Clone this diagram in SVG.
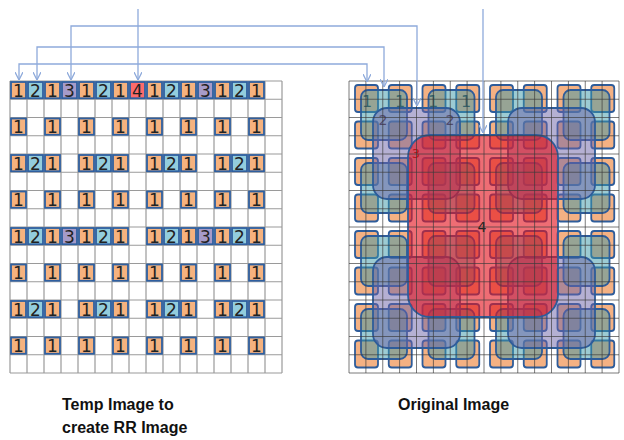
<svg xmlns="http://www.w3.org/2000/svg" xmlns:xlink="http://www.w3.org/1999/xlink" width="624" height="440" viewBox="0 0 624 440">
<style>
.grid{fill:none;stroke:#9a9a9a;stroke-width:1.2}
.rgrid{fill:none;stroke:#3a3a3a;stroke-width:0.9;opacity:0.75}
.cell{stroke:#2f5f9f;stroke-width:1.8}
.o{fill:#f6b27e}.b{fill:#93cddd}.p{fill:#a69bc9}.r{fill:#fd6b6b}
.d{font-family:"DejaVu Sans",sans-serif;font-size:17px;fill:#222;text-anchor:middle}
.sq{stroke:#2e5c9a;stroke-width:1.8}
.l1{fill:#f4b183}
.l2{fill:#3a97a8;fill-opacity:0.5}
.l3{fill:#6c62a8;fill-opacity:0.5}
.l4{fill:#e3141e;fill-opacity:0.62}
.lab{font-family:"DejaVu Sans",sans-serif;text-anchor:middle;fill:#333}
.con{fill:none;stroke:#8eaadb;stroke-width:1.3}
.cap{font-family:"Liberation Sans",Arial,sans-serif;font-weight:bold;font-size:16px;fill:#111}
</style>
<defs>
<marker id="ah" viewBox="0 0 10 10" refX="10" refY="5" markerWidth="8" markerHeight="8" markerUnits="userSpaceOnUse" orient="auto-start-reverse">
<path d="M0,0 L10,5 L0,10" fill="none" stroke="#8eaadb" stroke-width="1.6"/>
</marker>
<g id="k1"><rect class="cell o" x="1" y="1" width="15" height="16.25"/><text class="d" x="8.5" y="15.5">1</text></g>
<g id="k2"><rect class="cell b" x="1" y="1" width="15" height="16.25"/><text class="d" x="8.5" y="15.5">2</text></g>
<g id="k3"><rect class="cell p" x="1" y="1" width="15" height="16.25"/><text class="d" x="8.5" y="15.5">3</text></g>
<g id="k4"><rect class="cell r" x="1" y="1" width="15" height="16.25"/><text class="d" x="8.5" y="15.5">4</text></g>
</defs>
<rect width="624" height="440" fill="#ffffff"/>

<g id="temp-image">
<path class="grid" d="M10,81V373M27,81V373M44,81V373M61,81V373M78,81V373M95,81V373M112,81V373M129,81V373M146,81V373M163,81V373M180,81V373M197,81V373M214,81V373M231,81V373M248,81V373M265,81V373M282,81V373M10,81H282M10,99.25H282M10,117.5H282M10,135.75H282M10,154H282M10,172.25H282M10,190.5H282M10,208.75H282M10,227H282M10,245.25H282M10,263.5H282M10,281.75H282M10,300H282M10,318.25H282M10,336.5H282M10,354.75H282M10,373H282"/>
<g id="row0">
<use href="#k1" x="10" y="81"/><use href="#k2" x="27" y="81"/><use href="#k1" x="44" y="81"/><use href="#k3" x="61" y="81"/><use href="#k1" x="78" y="81"/><use href="#k2" x="95" y="81"/><use href="#k1" x="112" y="81"/><use href="#k4" x="129" y="81"/><use href="#k1" x="146" y="81"/><use href="#k2" x="163" y="81"/><use href="#k1" x="180" y="81"/><use href="#k3" x="197" y="81"/><use href="#k1" x="214" y="81"/><use href="#k2" x="231" y="81"/><use href="#k1" x="248" y="81"/>
</g>
<g id="row2">
<use href="#k1" x="10" y="117.5"/><use href="#k1" x="44" y="117.5"/><use href="#k1" x="78" y="117.5"/><use href="#k1" x="112" y="117.5"/><use href="#k1" x="146" y="117.5"/><use href="#k1" x="180" y="117.5"/><use href="#k1" x="214" y="117.5"/><use href="#k1" x="248" y="117.5"/>
</g>
<g id="row4">
<use href="#k1" x="10" y="154"/><use href="#k2" x="27" y="154"/><use href="#k1" x="44" y="154"/><use href="#k1" x="78" y="154"/><use href="#k2" x="95" y="154"/><use href="#k1" x="112" y="154"/><use href="#k1" x="146" y="154"/><use href="#k2" x="163" y="154"/><use href="#k1" x="180" y="154"/><use href="#k1" x="214" y="154"/><use href="#k2" x="231" y="154"/><use href="#k1" x="248" y="154"/>
</g>
<g id="row6">
<use href="#k1" x="10" y="190.5"/><use href="#k1" x="44" y="190.5"/><use href="#k1" x="78" y="190.5"/><use href="#k1" x="112" y="190.5"/><use href="#k1" x="146" y="190.5"/><use href="#k1" x="180" y="190.5"/><use href="#k1" x="214" y="190.5"/><use href="#k1" x="248" y="190.5"/>
</g>
<g id="row8">
<use href="#k1" x="10" y="227"/><use href="#k2" x="27" y="227"/><use href="#k1" x="44" y="227"/><use href="#k3" x="61" y="227"/><use href="#k1" x="78" y="227"/><use href="#k2" x="95" y="227"/><use href="#k1" x="112" y="227"/><use href="#k1" x="146" y="227"/><use href="#k2" x="163" y="227"/><use href="#k1" x="180" y="227"/><use href="#k3" x="197" y="227"/><use href="#k1" x="214" y="227"/><use href="#k2" x="231" y="227"/><use href="#k1" x="248" y="227"/>
</g>
<g id="row10">
<use href="#k1" x="10" y="263.5"/><use href="#k1" x="44" y="263.5"/><use href="#k1" x="78" y="263.5"/><use href="#k1" x="112" y="263.5"/><use href="#k1" x="146" y="263.5"/><use href="#k1" x="180" y="263.5"/><use href="#k1" x="214" y="263.5"/><use href="#k1" x="248" y="263.5"/>
</g>
<g id="row12">
<use href="#k1" x="10" y="300"/><use href="#k2" x="27" y="300"/><use href="#k1" x="44" y="300"/><use href="#k1" x="78" y="300"/><use href="#k2" x="95" y="300"/><use href="#k1" x="112" y="300"/><use href="#k1" x="146" y="300"/><use href="#k2" x="163" y="300"/><use href="#k1" x="180" y="300"/><use href="#k1" x="214" y="300"/><use href="#k2" x="231" y="300"/><use href="#k1" x="248" y="300"/>
</g>
<g id="row14">
<use href="#k1" x="10" y="336.5"/><use href="#k1" x="44" y="336.5"/><use href="#k1" x="78" y="336.5"/><use href="#k1" x="112" y="336.5"/><use href="#k1" x="146" y="336.5"/><use href="#k1" x="180" y="336.5"/><use href="#k1" x="214" y="336.5"/><use href="#k1" x="248" y="336.5"/>
</g>
</g>

<g id="original-image">
<g id="level1">
<rect class="sq l1" x="355" y="85" width="23" height="27" rx="3"/><rect class="sq l1" x="388.75" y="85" width="23" height="27" rx="3"/><rect class="sq l1" x="422.5" y="85" width="23" height="27" rx="3"/><rect class="sq l1" x="456.25" y="85" width="23" height="27" rx="3"/><rect class="sq l1" x="490" y="85" width="23" height="27" rx="3"/><rect class="sq l1" x="523.75" y="85" width="23" height="27" rx="3"/><rect class="sq l1" x="557.5" y="85" width="23" height="27" rx="3"/><rect class="sq l1" x="591.25" y="85" width="23" height="27" rx="3"/>
<rect class="sq l1" x="355" y="121.5" width="23" height="27" rx="3"/><rect class="sq l1" x="388.75" y="121.5" width="23" height="27" rx="3"/><rect class="sq l1" x="422.5" y="121.5" width="23" height="27" rx="3"/><rect class="sq l1" x="456.25" y="121.5" width="23" height="27" rx="3"/><rect class="sq l1" x="490" y="121.5" width="23" height="27" rx="3"/><rect class="sq l1" x="523.75" y="121.5" width="23" height="27" rx="3"/><rect class="sq l1" x="557.5" y="121.5" width="23" height="27" rx="3"/><rect class="sq l1" x="591.25" y="121.5" width="23" height="27" rx="3"/>
<rect class="sq l1" x="355" y="158" width="23" height="27" rx="3"/><rect class="sq l1" x="388.75" y="158" width="23" height="27" rx="3"/><rect class="sq l1" x="422.5" y="158" width="23" height="27" rx="3"/><rect class="sq l1" x="456.25" y="158" width="23" height="27" rx="3"/><rect class="sq l1" x="490" y="158" width="23" height="27" rx="3"/><rect class="sq l1" x="523.75" y="158" width="23" height="27" rx="3"/><rect class="sq l1" x="557.5" y="158" width="23" height="27" rx="3"/><rect class="sq l1" x="591.25" y="158" width="23" height="27" rx="3"/>
<rect class="sq l1" x="355" y="194.5" width="23" height="27" rx="3"/><rect class="sq l1" x="388.75" y="194.5" width="23" height="27" rx="3"/><rect class="sq l1" x="422.5" y="194.5" width="23" height="27" rx="3"/><rect class="sq l1" x="456.25" y="194.5" width="23" height="27" rx="3"/><rect class="sq l1" x="490" y="194.5" width="23" height="27" rx="3"/><rect class="sq l1" x="523.75" y="194.5" width="23" height="27" rx="3"/><rect class="sq l1" x="557.5" y="194.5" width="23" height="27" rx="3"/><rect class="sq l1" x="591.25" y="194.5" width="23" height="27" rx="3"/>
<rect class="sq l1" x="355" y="231" width="23" height="27" rx="3"/><rect class="sq l1" x="388.75" y="231" width="23" height="27" rx="3"/><rect class="sq l1" x="422.5" y="231" width="23" height="27" rx="3"/><rect class="sq l1" x="456.25" y="231" width="23" height="27" rx="3"/><rect class="sq l1" x="490" y="231" width="23" height="27" rx="3"/><rect class="sq l1" x="523.75" y="231" width="23" height="27" rx="3"/><rect class="sq l1" x="557.5" y="231" width="23" height="27" rx="3"/><rect class="sq l1" x="591.25" y="231" width="23" height="27" rx="3"/>
<rect class="sq l1" x="355" y="267.5" width="23" height="27" rx="3"/><rect class="sq l1" x="388.75" y="267.5" width="23" height="27" rx="3"/><rect class="sq l1" x="422.5" y="267.5" width="23" height="27" rx="3"/><rect class="sq l1" x="456.25" y="267.5" width="23" height="27" rx="3"/><rect class="sq l1" x="490" y="267.5" width="23" height="27" rx="3"/><rect class="sq l1" x="523.75" y="267.5" width="23" height="27" rx="3"/><rect class="sq l1" x="557.5" y="267.5" width="23" height="27" rx="3"/><rect class="sq l1" x="591.25" y="267.5" width="23" height="27" rx="3"/>
<rect class="sq l1" x="355" y="304" width="23" height="27" rx="3"/><rect class="sq l1" x="388.75" y="304" width="23" height="27" rx="3"/><rect class="sq l1" x="422.5" y="304" width="23" height="27" rx="3"/><rect class="sq l1" x="456.25" y="304" width="23" height="27" rx="3"/><rect class="sq l1" x="490" y="304" width="23" height="27" rx="3"/><rect class="sq l1" x="523.75" y="304" width="23" height="27" rx="3"/><rect class="sq l1" x="557.5" y="304" width="23" height="27" rx="3"/><rect class="sq l1" x="591.25" y="304" width="23" height="27" rx="3"/>
<rect class="sq l1" x="355" y="340.5" width="23" height="27" rx="3"/><rect class="sq l1" x="388.75" y="340.5" width="23" height="27" rx="3"/><rect class="sq l1" x="422.5" y="340.5" width="23" height="27" rx="3"/><rect class="sq l1" x="456.25" y="340.5" width="23" height="27" rx="3"/><rect class="sq l1" x="490" y="340.5" width="23" height="27" rx="3"/><rect class="sq l1" x="523.75" y="340.5" width="23" height="27" rx="3"/><rect class="sq l1" x="557.5" y="340.5" width="23" height="27" rx="3"/><rect class="sq l1" x="591.25" y="340.5" width="23" height="27" rx="3"/>
</g>
<g id="labels1">
<text class="lab" x="367" y="107" font-size="16">1</text><text class="lab" x="400" y="107" font-size="16">1</text><text class="lab" x="433" y="107" font-size="16">1</text><text class="lab" x="466" y="107" font-size="16">1</text>
</g>
<g id="level2">
<rect class="sq l2" x="361" y="90" width="46" height="50" rx="7"/><rect class="sq l2" x="428.5" y="90" width="46" height="50" rx="7"/><rect class="sq l2" x="496" y="90" width="46" height="50" rx="7"/><rect class="sq l2" x="563.5" y="90" width="46" height="50" rx="7"/>
<rect class="sq l2" x="361" y="163" width="46" height="50" rx="7"/><rect class="sq l2" x="428.5" y="163" width="46" height="50" rx="7"/><rect class="sq l2" x="496" y="163" width="46" height="50" rx="7"/><rect class="sq l2" x="563.5" y="163" width="46" height="50" rx="7"/>
<rect class="sq l2" x="361" y="236" width="46" height="50" rx="7"/><rect class="sq l2" x="428.5" y="236" width="46" height="50" rx="7"/><rect class="sq l2" x="496" y="236" width="46" height="50" rx="7"/><rect class="sq l2" x="563.5" y="236" width="46" height="50" rx="7"/>
<rect class="sq l2" x="361" y="309" width="46" height="50" rx="7"/><rect class="sq l2" x="428.5" y="309" width="46" height="50" rx="7"/><rect class="sq l2" x="496" y="309" width="46" height="50" rx="7"/><rect class="sq l2" x="563.5" y="309" width="46" height="50" rx="7"/>
</g>
<g id="labels2">
<text class="lab" x="383" y="125" font-size="14">2</text><text class="lab" x="450" y="125" font-size="14">2</text>
</g>
<g id="level3">
<rect class="sq l3" x="373" y="108" width="87" height="91" rx="14"/><rect class="sq l3" x="508" y="108" width="87" height="91" rx="14"/>
<rect class="sq l3" x="373" y="257" width="87" height="91" rx="14"/><rect class="sq l3" x="508" y="257" width="87" height="91" rx="14"/>
</g>
<text class="lab" x="416" y="158" font-size="13" style="fill:#7a1515">3</text>
<g id="level4">
<rect class="sq l4" x="408" y="135" width="150" height="182" rx="22"/>
<text class="lab" x="482" y="232" font-size="14" style="fill:#222">4</text>
</g>
<path class="rgrid" d="M349,81V373M365.9,81V373M382.75,81V373M399.6,81V373M416.5,81V373M433.4,81V373M450.25,81V373M467.1,81V373M484,81V373M500.9,81V373M517.75,81V373M534.6,81V373M551.5,81V373M568.4,81V373M585.25,81V373M602.1,81V373M619,81V373M349,81H619M349,99.25H619M349,117.5H619M349,135.75H619M349,154H619M349,172.25H619M349,190.5H619M349,208.75H619M349,227H619M349,245.25H619M349,263.5H619M349,281.75H619M349,300H619M349,318.25H619M349,336.5H619M349,354.75H619M349,373H619"/>
</g>

<g id="connectors">
<path class="con" d="M19,80V64H367V82" marker-start="url(#ah)" marker-end="url(#ah)"/>
<path class="con" d="M37,80V47H384V87" marker-start="url(#ah)" marker-end="url(#ah)"/>
<path class="con" d="M71,80V26H417V106" marker-start="url(#ah)" marker-end="url(#ah)"/>
<path class="con" d="M138,9V80" marker-end="url(#ah)"/>
<path class="con" d="M483,9V133" marker-end="url(#ah)"/>
</g>

<g id="captions">
<text class="cap" x="62" y="410">Temp Image to</text>
<text class="cap" x="62" y="433">create RR Image</text>
<text class="cap" x="398" y="410">Original Image</text>
</g>
</svg>
